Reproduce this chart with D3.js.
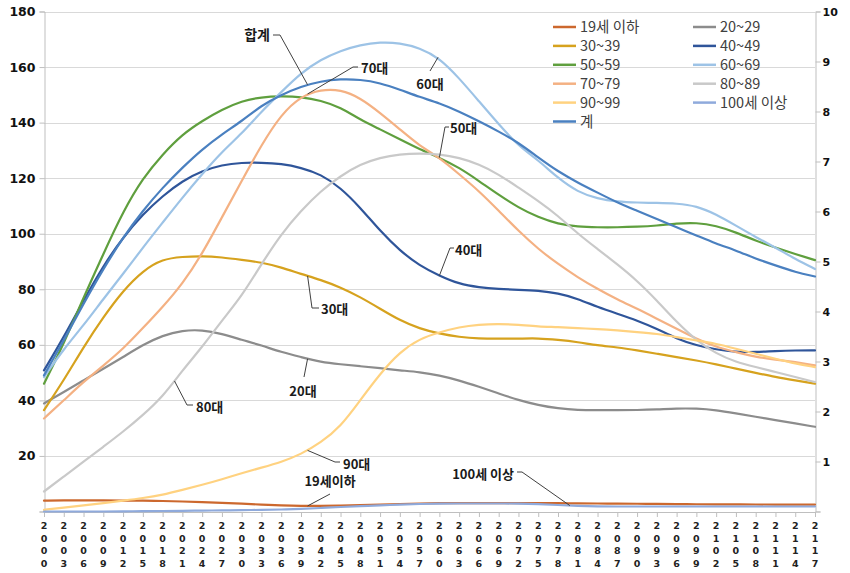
<!DOCTYPE html>
<html><head><meta charset="utf-8">
<script src="https://cdn.jsdelivr.net/npm/d3@7"></script>
<style>
html,body{margin:0;padding:0;background:#fff;}
svg{display:block;}
</style></head>
<body>
<svg id="chart" width="850" height="573"></svg>
<script>
// ---------------- data ----------------
const years = [2000,2003,2006,2009,2012,2015,2018,2021,2024,2027,2030,2033,2036,2039,2042,2045,2048,2051,2054,2057,
               2060,2063,2066,2069,2072,2075,2078,2081,2084,2087,2090,2093,2096,2099,2102,2105,2108,2111,2114,2117];
const leftTicks = [20,40,60,80,100,120,140,160,180];
const rightTicks = [1,2,3,4,5,6,7,8,9,10];
const seriesNames = ["19세 이하","20~29","30~39","40~49","50~59","60~69","70~79","80~89","90~99","100세 이상","계"];

const s19 = [3.9,4.0,4.0,4.0,3.95,3.9,3.8,3.6,3.4,3.1,2.8,2.5,2.2,2.0,2.0,2.1,2.3,2.5,2.7,2.9,
             3.0,3.0,3.0,3.0,3.0,3.0,3.0,2.9,2.9,2.8,2.8,2.7,2.7,2.6,2.6,2.6,2.5,2.5,2.5,2.5];
const s20 = [38.9,43,47.2,51.4,55.6,60,63.4,65.2,65.4,64,61.8,59.8,57.4,55.6,53.8,53,52.3,51.6,50.8,50.2,
             49,47.2,44.9,42.5,40.1,38.3,37.1,36.5,36.5,36.5,36.5,36.7,37.1,37.1,36.5,35.3,34.1,32.9,31.7,30.5];
const s30 = [36.5,47.2,59.2,70,79.5,86.7,90.9,91.7,92,91.5,90.6,89.7,87.9,85.5,83.4,80.7,77.2,73,68.8,65.8,
             64,62.8,62.2,62.2,62.2,62.4,61.8,61,59.8,59.1,58,56.8,55.6,54.4,53,51.4,49.9,48.4,47.2,46];
const s40 = [50.8,62.8,76,88.5,98.7,107,113.6,119,122.6,124.8,125.6,125.6,125.2,123.8,121.4,116.6,109.4,101,93.9,88.5,
             84.9,81.9,80.7,80.1,79.8,79.5,78.6,76.6,73.6,71.2,68.8,65.8,62.2,59.8,58.3,57.4,57.4,57.8,58,58];
const s50 = [46,60.4,77,92.7,108,120,128.6,135.8,140.6,144.7,147.8,149.2,149.5,149.3,148,145.5,141,137.6,134,130.4,
             127.4,123.8,119,114,109.4,105.9,103.5,102.5,102.3,102.3,102.5,102.9,103.7,104,102.9,100.5,97.5,95,92.7,90.5];
const s60 = [48.4,58.5,67,76.5,85.5,95,104,113,121.5,129.5,136,144,151,157.9,162.7,165.9,168,169,168.7,166.9,
             163.3,156,147.7,139.4,131.6,126.5,120,115,112.6,111.5,111.2,111.1,110.9,110,107,102.9,98.8,95,90.9,87.3];
const s70 = [33.5,40,46.7,52.5,58.5,66,73.6,81.9,92.7,105.9,119,132,143,149.5,151.9,151.9,148.9,143.5,137.6,131.6,
             127.4,121.4,115.4,108.3,101,94.5,89.1,84.3,80.1,76.3,73,69.4,65.8,62.2,59.2,57.4,55.6,54.7,53.8,52.6];
const s80 = [7.2,12.6,17.9,23.3,28.7,34.7,41.3,50.8,59.2,68.8,77.5,89.1,99.9,108.3,115.4,120.8,125,127.4,128.6,128.9,
             128.6,127.4,125,121.4,116.6,111.8,106.5,100,94.5,89,83.1,76,68.2,61.6,56.8,53.8,52,50.2,48.4,46.6];
const s90 = [0.6,1.4,2.2,3,3.9,4.8,6,7.8,9.6,11.6,13.8,15.8,17.8,20.6,24.8,30.5,40.1,49.6,57.4,62.2,
             64.5,66.4,67.3,67.6,67.2,66.6,66.4,66,65.7,65.2,64.6,64,62.8,61.6,60.4,58.6,56.8,55,53.2,52];
const s100 = [0,0,0,0,0,0.01,0.01,0.01,0.02,0.02,0.03,0.03,0.04,0.05,0.07,0.09,0.11,0.12,0.14,0.15,
              0.16,0.16,0.16,0.16,0.16,0.15,0.13,0.11,0.1,0.1,0.1,0.1,0.1,0.1,0.1,0.1,0.1,0.1,0.1,0.1];
const sTotal = [49,61.6,74.8,87.3,98.7,108.3,116.6,123.8,130.4,135.8,140.5,146.2,150,153,154.9,155.7,155.5,154.3,151.9,149.2,
                147,144,140.5,136.8,132.8,127.4,122.4,118.4,114.8,111.2,108.3,105.3,102.3,99.4,96.4,94,91,88.6,86.2,84.6];

const seriesValues = [s19,s20,s30,s40,s50,s60,s70,s80,s90,s100,sTotal];
const seriesAxis = ["L","L","L","L","L","L","L","L","L","R","L"];
const seriesColors = ["#CC682E","#8C8C8C","#D6A21E","#2F559A","#5F9F3E","#9DC3E6","#F4B183","#C9C9C9","#FFD280","#8FAADC","#4A80C0"];

// annotations: label, series index, anchor year
const annotations = [
  {label:"합계", s:10, year:2040},
  {label:"70대", s:6, year:2040},
  {label:"60대", s:5, year:2059.8},
  {label:"50대", s:4, year:2060},
  {label:"40대", s:3, year:2060},
  {label:"30대", s:2, year:2040},
  {label:"20대", s:1, year:2040},
  {label:"80대", s:7, year:2019.8},
  {label:"90대", s:8, year:2040},
  {label:"19세이하", s:0, year:2040},
  {label:"100세 이상", s:9, year:2079.8}
];
// label placement (layout only)
const annoLayout = {
  "합계":   {pts:[[280,35],[273,35]], tx:270, ty:35, anchor:"end", size:14},
  "70대":   {pts:[[353,67],[358,67]], tx:361, ty:68, anchor:"start"},
  "60대":   {pts:[[430,71]], tx:430, ty:84, anchor:"middle"},
  "50대":   {pts:[[445,127],[449,127]], tx:450, ty:128, anchor:"start"},
  "40대":   {pts:[[450,248],[454,248]], tx:455, ty:250, anchor:"start"},
  "30대":   {pts:[[312,308],[319,308]], tx:321, ty:309, anchor:"start"},
  "20대":   {pts:[[304,377]], tx:303, ty:391, anchor:"middle"},
  "80대":   {pts:[[187,405],[193,405]], tx:196, ty:407, anchor:"start"},
  "90대":   {pts:[[335,462],[340,462]], tx:343, ty:464, anchor:"start"},
  "19세이하": {pts:[[330,494]], tx:330, ty:481, anchor:"middle"},
  "100세 이상": {pts:[[522,472],[517,472]], tx:514, ty:474, anchor:"end"}
};

// ---------------- drawing ----------------
const svg = d3.select("#chart");
const X0 = 44, X1 = 815, YT = 11.5, YB = 511.5;
const x = d3.scalePoint().domain(years).range([X0, X1]);
const xLin = d3.scaleLinear().domain([years[0], years[years.length-1]]).range([X0, X1]);
const yL = d3.scaleLinear().domain([0,180]).range([YB, YT]);
const yR = d3.scaleLinear().domain([0,10]).range([YB, YT]);
const numFont = "'DejaVu Sans', sans-serif";
const krFont = "'Noto Sans CJK KR', 'Noto Sans', sans-serif";

// gridlines
svg.append("g").selectAll("line").data(leftTicks).join("line")
  .attr("x1", X0).attr("x2", X1)
  .attr("y1", d => Math.round(yL(d))+0.5).attr("y2", d => Math.round(yL(d))+0.5)
  .attr("stroke", "#D9D9D9").attr("stroke-width", 1);

// left axis
const gL = svg.append("g").attr("transform", `translate(${X0+0.5},0)`)
  .call(d3.axisLeft(yL).tickValues(leftTicks.concat([0])).tickSize(5).tickFormat(d => d === 0 ? "" : d));
gL.select(".domain").attr("stroke", "#BFBFBF");
gL.selectAll(".tick line").attr("stroke", "#BFBFBF");
gL.selectAll(".tick text").attr("font-family", numFont).attr("font-weight", "bold")
  .attr("font-size", "12.5px").attr("fill", "#111").attr("x", -9);

// right axis
const gR = svg.append("g").attr("transform", `translate(${X1+0.5},0)`)
  .call(d3.axisRight(yR).tickValues(rightTicks.concat([0])).tickSize(5).tickFormat(d => d === 0 ? "" : d));
gR.select(".domain").attr("stroke", "#BFBFBF");
gR.selectAll(".tick line").attr("stroke", "#BFBFBF");
gR.selectAll(".tick text").attr("font-family", numFont).attr("font-weight", "bold")
  .attr("font-size", "11px").attr("fill", "#111").attr("x", 7);

// bottom axis
const gB = svg.append("g").attr("transform", `translate(0,${YB+0.5})`)
  .call(d3.axisBottom(x).tickSize(5).tickFormat(""));
gB.select(".domain").attr("stroke", "#BFBFBF");
gB.selectAll(".tick line").attr("stroke", "#BFBFBF");
// vertical stacked year labels
const xl = svg.append("g");
years.forEach(yr => {
  const t = xl.append("text").attr("text-anchor", "middle")
    .attr("font-family", numFont).attr("font-weight", "bold").attr("font-size", "9.5px").attr("fill", "#222");
  String(yr).split("").forEach((ch, k) => {
    t.append("tspan").attr("x", x(yr)).attr("y", 529 + k*12.7).text(ch);
  });
});

// lines
const lineL = d3.line().x((d,i) => x(years[i])).y(d => yL(d)).curve(d3.curveBasis);
const lineR = d3.line().x((d,i) => x(years[i])).y(d => yR(d)).curve(d3.curveBasis);
svg.append("g").selectAll("path").data(seriesValues).join("path")
  .attr("d", (d,i) => seriesAxis[i] === "R" ? lineR(d) : lineL(d))
  .attr("fill", "none")
  .attr("stroke", (d,i) => seriesColors[i])
  .attr("stroke-width", 2.2)
  .attr("stroke-linejoin", "round").attr("stroke-linecap", "round");

// legend
const lg = svg.append("g");
seriesNames.forEach((name, i) => {
  const col = i % 2, row = Math.floor(i / 2);
  const lx = col === 0 ? 553 : 693;
  const ly = 27 + row * 18.9;
  lg.append("line").attr("x1", lx).attr("x2", lx + 23).attr("y1", ly).attr("y2", ly)
    .attr("stroke", seriesColors[i]).attr("stroke-width", 2.5);
  lg.append("text").attr("x", lx + 27).attr("y", ly).attr("dy", "0.36em")
    .attr("font-family", krFont).attr("font-size", "14.5px").attr("fill", "#404040").text(name);
});

// annotations
function valAt(arr, yr) {
  const i = d3.bisectRight(years, yr) - 1;
  const i0 = Math.max(0, Math.min(years.length - 2, i));
  const t = (yr - years[i0]) / (years[i0+1] - years[i0]);
  return arr[i0] + (arr[i0+1] - arr[i0]) * t;
}
const ag = svg.append("g");
annotations.forEach(a => {
  const L = annoLayout[a.label];
  const ys = seriesAxis[a.s] === "R" ? yR : yL;
  const ax = xLin(a.year), ay = ys(valAt(seriesValues[a.s], a.year));
  const pts = [[ax, ay]].concat(L.pts);
  ag.append("path").attr("d", d3.line()(pts)).attr("fill", "none")
    .attr("stroke", "#404040").attr("stroke-width", 1);
  ag.append("text").attr("x", L.tx).attr("y", L.ty).attr("dy", "0.36em")
    .attr("text-anchor", L.anchor).attr("font-family", krFont).attr("font-weight", "bold")
    .attr("font-size", (L.size || 13) + "px").attr("fill", "#1a1a1a").text(a.label);
});
</script>
</body></html>
